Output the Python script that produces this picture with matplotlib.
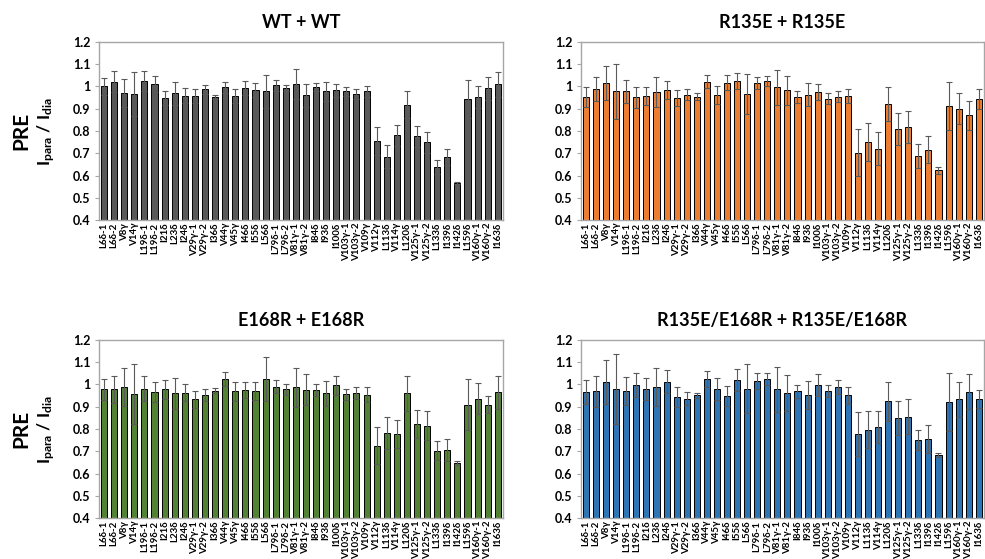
import matplotlib
matplotlib.use("Agg")
import matplotlib.pyplot as plt
import numpy as np

plt.rcParams['font.family'] = ['Lato', 'DejaVu Sans']
plt.rcParams['mathtext.fontset'] = 'custom'
plt.rcParams['mathtext.rm'] = 'Lato'
plt.rcParams['mathtext.bf'] = 'Lato:bold'
plt.rcParams['mathtext.it'] = 'Lato:italic'

residues = ["L6δ-1", "L6δ-2", "V8γ", "V14γ", "L19δ-1", "L19δ-2", "I21δ", "L23δ", "I24δ",
            "V29γ-1", "V29γ-2", "I36δ", "V44γ", "V45γ", "I46δ", "I55δ", "L56δ", "L79δ-1",
            "L79δ-2", "V81γ-1", "V81γ-2", "I84δ", "I93δ", "I100δ", "V103γ-1", "V103γ-2",
            "V109γ", "V112γ", "L113δ", "V114γ", "L120δ", "V125γ-1", "V125γ-2", "L133δ",
            "I139δ", "I142δ", "L159δ", "V160γ-1", "V160γ-2", "I163δ"]

wt_vals = [1.000, 1.022, 0.969, 0.966, 1.024, 1.010, 0.949, 0.969, 0.958, 0.957,
           0.987, 0.951, 0.996, 0.957, 0.994, 0.984, 0.978, 1.006, 0.993, 1.010,
           0.961, 0.997, 0.979, 0.982, 0.978, 0.966, 0.979, 0.754, 0.684, 0.781,
           0.918, 0.776, 0.749, 0.638, 0.682, 0.566, 0.942, 0.954, 0.991, 1.010]
wt_err = [0.037, 0.048, 0.063, 0.100, 0.045, 0.036, 0.030, 0.052, 0.033, 0.030,
          0.020, 0.009, 0.024, 0.031, 0.030, 0.031, 0.073, 0.025, 0.015, 0.067,
          0.052, 0.019, 0.042, 0.031, 0.019, 0.022, 0.024, 0.064, 0.051, 0.048,
          0.060, 0.048, 0.046, 0.030, 0.036, 0.005, 0.085, 0.050, 0.052, 0.057]

r135e_vals = [0.952, 0.988, 1.015, 0.979, 0.978, 0.951, 0.957, 0.976, 0.984, 0.949,
              0.963, 0.955, 1.022, 0.961, 1.016, 1.024, 0.966, 1.015, 1.025, 0.996,
              0.982, 0.952, 0.964, 0.975, 0.946, 0.954, 0.958, 0.703, 0.752, 0.721,
              0.921, 0.807, 0.818, 0.688, 0.716, 0.624, 0.912, 0.900, 0.870, 0.945]
r135e_err = [0.045, 0.055, 0.076, 0.124, 0.052, 0.046, 0.040, 0.066, 0.039, 0.037,
             0.024, 0.015, 0.028, 0.039, 0.034, 0.036, 0.090, 0.028, 0.022, 0.078,
             0.064, 0.027, 0.052, 0.037, 0.024, 0.025, 0.031, 0.107, 0.085, 0.076,
             0.075, 0.072, 0.072, 0.055, 0.061, 0.015, 0.109, 0.070, 0.066, 0.045]

e168r_vals = [0.978, 0.979, 0.987, 0.957, 0.982, 0.967, 0.978, 0.961, 0.964, 0.934,
              0.952, 0.973, 1.024, 0.970, 0.976, 0.970, 1.025, 0.990, 0.978, 0.987,
              0.976, 0.976, 0.960, 0.997, 0.957, 0.963, 0.954, 0.725, 0.781, 0.778,
              0.961, 0.822, 0.815, 0.703, 0.707, 0.649, 0.910, 0.937, 0.910, 0.965]
e168r_err = [0.048, 0.061, 0.085, 0.136, 0.054, 0.045, 0.043, 0.070, 0.040, 0.039,
             0.028, 0.013, 0.030, 0.043, 0.037, 0.040, 0.100, 0.030, 0.024, 0.087,
             0.070, 0.027, 0.055, 0.042, 0.025, 0.027, 0.034, 0.084, 0.072, 0.063,
             0.079, 0.063, 0.064, 0.043, 0.049, 0.009, 0.113, 0.070, 0.040, 0.075]

dbl_vals = [0.967, 0.970, 1.012, 0.979, 0.969, 0.997, 0.981, 0.990, 1.013, 0.945,
            0.937, 0.951, 1.024, 0.981, 0.948, 1.021, 0.981, 1.015, 1.025, 0.978,
            0.963, 0.969, 0.951, 0.996, 0.969, 0.988, 0.951, 0.779, 0.797, 0.809,
            0.925, 0.849, 0.855, 0.751, 0.755, 0.681, 0.921, 0.934, 0.967, 0.935]
dbl_err = [0.055, 0.070, 0.100, 0.158, 0.063, 0.055, 0.050, 0.085, 0.052, 0.045,
           0.031, 0.013, 0.036, 0.049, 0.043, 0.050, 0.110, 0.037, 0.027, 0.100,
           0.080, 0.030, 0.063, 0.049, 0.027, 0.030, 0.039, 0.099, 0.082, 0.073,
           0.088, 0.075, 0.078, 0.046, 0.061, 0.009, 0.130, 0.079, 0.078, 0.040]

titles = ["WT + WT", "R135E + R135E", "E168R + E168R", "R135E/E168R + R135E/E168R"]
colors = ["#595959", "#ED7D31", "#548235", "#2E75B6"]
series = [(wt_vals, wt_err), (r135e_vals, r135e_err), (e168r_vals, e168r_err), (dbl_vals, dbl_err)]

yticks = [0.4, 0.5, 0.6, 0.7, 0.8, 0.9, 1.0, 1.1, 1.2]
ytick_labels = ["0.4", "0.5", "0.6", "0.7", "0.8", "0.9", "1", "1.1", "1.2"]

fig = plt.figure(figsize=(9.85, 5.59), dpi=100)
positions = [
    [0.1005, 0.6064, 0.410, 0.3185],
    [0.5898, 0.6064, 0.409, 0.3185],
    [0.1005, 0.0733, 0.410, 0.3185],
    [0.5898, 0.0733, 0.409, 0.3185],
]

spine_col = "#A6A6A6"
for pos, title, col, (vals, errs) in zip(positions, titles, colors, series):
    ax = fig.add_axes(pos)
    x = np.arange(len(residues))
    ax.bar(x, vals, width=0.6, color=col, edgecolor="black", linewidth=0.7,
           yerr=errs, capsize=2.2,
           error_kw=dict(ecolor="#5a5a5a", elinewidth=0.8, capthick=0.8))
    ax.set_xlim(-0.5, len(residues) - 0.5)
    ax.set_ylim(0.4, 1.2)
    ax.set_yticks(yticks)
    ax.set_yticklabels(ytick_labels, fontsize=9, fontweight="bold")
    ax.set_xticks(x)
    ax.set_xticklabels(residues, rotation=90, fontsize=7, fontweight="bold")
    ax.tick_params(axis="x", length=0, pad=2)
    ax.tick_params(axis="y", length=3, color=spine_col, width=0.8, pad=3)
    for s in ax.spines.values():
        s.set_color(spine_col)
        s.set_linewidth(1.0)
    ax.set_title(title, fontsize=13, fontweight="bold", pad=10)

for yc in [0.6064 + 0.3185 / 2, 0.0733 + 0.3185 / 2]:
    fig.text(0.022, yc, "PRE", rotation=90, ha="center", va="center",
             fontsize=15, fontweight="bold")
    fig.text(0.047, yc, r"$\mathbf{I_{para}}$ $\mathbf{/}$ $\mathbf{I_{dia}}$",
             rotation=90, ha="center", va="center", fontsize=12.5)

fig.savefig("out.png", dpi=100)
